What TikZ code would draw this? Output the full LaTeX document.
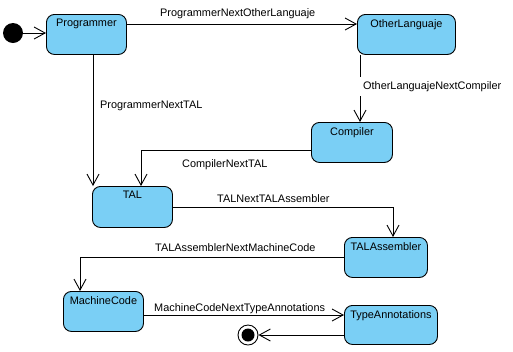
\documentclass[tikz,border=0pt]{standalone}
\usepackage{fontspec}
\setmainfont{Liberation Sans}
\usetikzlibrary{arrows.meta,calc}
\definecolor{statefill}{RGB}{122,207,245}
\begin{document}
\begin{tikzpicture}[x=1bp,y=-1bp,
  font=\fontsize{10.9bp}{13bp}\selectfont,
  state/.style={draw=black, line width=0.9bp, fill=statefill, rounded corners=8bp,
    anchor=north west, inner sep=0pt},
  title/.style={anchor=north, inner sep=0pt, yshift=-5bp},
  flow/.style={draw=black, line width=0.9bp, -{Straight Barb[length=11bp,width=12bp]}},
  lbl/.style={anchor=base west, inner sep=0pt},
  vlbl/.style={anchor=base west, fill=white, inner xsep=6bp, inner ysep=4bp},
  initial/.style={circle, fill=black, minimum size=20bp, inner sep=0pt},
  final/.style={circle, draw=black, line width=0.9bp, fill=white, minimum size=20bp, inner sep=0pt},
  finalcore/.style={circle, fill=black, minimum size=13bp, inner sep=0pt}]
\useasboundingbox (0,0) rectangle (513,351);

% states
\node[state, minimum width=80bp, minimum height=40bp,
  label={[title]north:Programmer}] (prog) at (46,14) {};
\node[state, minimum width=98bp, minimum height=40bp,
  label={[title]north:OtherLanguaje}] (ol) at (357,14) {};
\node[state, minimum width=81bp, minimum height=40bp,
  label={[title]north:Compiler}] (comp) at (311,122) {};
\node[state, minimum width=80bp, minimum height=41bp,
  label={[title]north:TAL}] (tal) at (92,186) {};
\node[state, minimum width=83bp, minimum height=40bp,
  label={[title]north:TALAssembler}] (talasm) at (344,237) {};
\node[state, minimum width=80bp, minimum height=40bp,
  label={[title]north:MachineCode}] (mc) at (63,291) {};
\node[state, minimum width=93bp, minimum height=39bp,
  label={[title]north:TypeAnnotations}] (ta) at (344,305) {};

% pseudo states
\node[initial] (init) at (13,33) {};
\node[final] (fin) at (248,335) {};
\node[finalcore] (fincore) at (fin) {};

% transitions
\draw[flow] (init) -- (init -| prog.west);
\draw[flow] ($(prog.north east)+(0,10)$) -- ($(ol.north west)+(0,10)$);
\draw[flow] ($(prog.south west)+(47,0)$) -- ($(tal.north west)+(1,0)$);
\draw[flow] ($(ol.south west)+(3,0)$) -- ($(comp.north west)+(49,0)$);
\draw[flow] ($(comp.north west)+(0,28)$) -| ($(tal.north west)+(49,0)$);
\draw[flow] (tal.east) -| ($(talasm.north west)+(49,0)$);
\draw[flow] (talasm.west) -| ($(mc.north west)+(17,0)$);
\draw[flow] ($(mc.north east)+(0,24)$) -- ($(ta.north west)+(0,10)$);
\draw[flow] (fin -| ta.west) -- (fin);

% transition labels
\node[lbl] (l1) at (160,16.2) {ProgrammerNextOtherLanguaje};
\node[vlbl] (l2) at (94,108.3) {ProgrammerNextTAL};
\node[vlbl] (l3) at (357,89.3) {OtherLanguajeNextCompiler};
\node[lbl] (l4) at (182,167) {CompilerNextTAL};
\node[lbl] (l5) at (217,202) {TALNextTALAssembler};
\node[lbl] (l6) at (155,251) {TALAssemblerNextMachineCode};
\node[lbl] (l7) at (154,311) {MachineCodeNextTypeAnnotations};
\end{tikzpicture}
\end{document}
